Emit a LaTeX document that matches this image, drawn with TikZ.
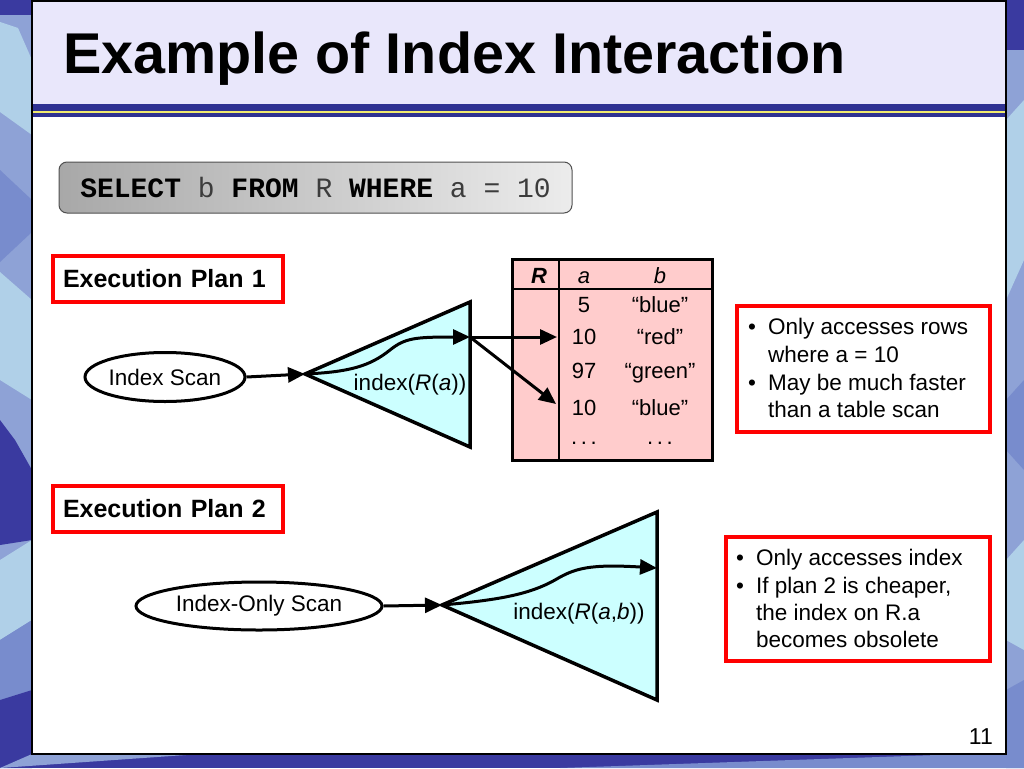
\documentclass[tikz,border=0pt]{standalone}
\usepackage{fontspec}
\setmainfont{Liberation Sans}
\newfontfamily\sqlfont{Liberation Mono}
\usetikzlibrary{arrows.meta,shapes.geometric}
\definecolor{bgdark}{RGB}{58,58,160}
\definecolor{bgmed}{RGB}{120,140,205}
\definecolor{bglight}{RGB}{142,162,214}
\definecolor{bgcyan}{RGB}{176,208,232}
\definecolor{titlebg}{RGB}{233,231,251}
\definecolor{titleblue}{RGB}{46,49,146}
\definecolor{titleyellow}{RGB}{240,234,110}
\definecolor{idxfill}{RGB}{204,255,255}
\definecolor{tblfill}{RGB}{255,204,204}
\definecolor{sqldark}{RGB}{168,168,168}
\definecolor{sqllight}{RGB}{236,236,236}
\definecolor{sqlborder}{RGB}{80,80,80}
\definecolor{sqlgray}{RGB}{60,60,60}
\definecolor{boxred}{RGB}{255,0,0}
\tikzset{
  body/.style={font=\fontsize{22.5}{27}\selectfont},
  arr/.style={line width=3pt,-{Triangle[length=17pt,width=15pt]}},
  scanoval/.style={ellipse,draw,line width=3pt,fill=white,inner sep=0pt,body},
  idxtri/.style={draw,line width=3.5pt,fill=idxfill,line join=miter},
  planbox/.style={draw=boxred,line width=3.5pt,fill=white,inner xsep=10pt,inner ysep=0pt,
    text width=210pt,align=left,minimum height=46pt,font=\fontsize{25}{30}\selectfont\bfseries},
  redframe/.style={draw=boxred,line width=3.5pt,fill=white},
  notetext/.style={anchor=base west,inner sep=0pt,body},
  celltext/.style={anchor=base,inner sep=0pt,font=\fontsize{22}{26}\selectfont},
  idxlabel/.style={anchor=base,inner sep=0pt,body}
}
\begin{document}
\begin{tikzpicture}[x=1pt,y=-1pt]
\useasboundingbox (0,0) rectangle (1024,768);
% ---------- background mosaic ----------
\fill[bgdark] (0,0) rectangle (1024,768);
\fill[bglight] (0,15) -- (32,15) -- (32,740) -- (0,740) -- cycle;
\fill[bgcyan] (0,22) -- (18,28) -- (32,60) -- (32,135) -- (0,112) -- cycle;
\fill[bgmed] (0,170) -- (32,200) -- (32,232) -- (0,262) -- cycle;
\fill[bgcyan] (0,272) -- (32,300) -- (32,400) -- (0,380) -- cycle;
\fill[bgdark] (0,420) -- (15,440) -- (32,470) -- (32,540) -- (0,545) -- cycle;
\fill[bgcyan] (0,560) -- (32,540) -- (32,620) -- (0,640) -- cycle;
\fill[bgmed] (0,640) -- (32,620) -- (32,690) -- (0,700) -- cycle;
\fill[bgdark] (0,700) -- (32,690) -- (32,768) -- (0,768) -- cycle;
\fill[bglight] (1006,50) -- (1024,50) -- (1024,740) -- (1006,740) -- cycle;
\fill[bgcyan] (1006,120) -- (1024,100) -- (1024,260) -- (1006,300) -- cycle;
\fill[bgmed] (1006,400) -- (1024,380) -- (1024,470) -- (1006,450) -- cycle;
\fill[bgcyan] (1006,560) -- (1024,540) -- (1024,650) -- (1006,640) -- cycle;
\fill[bgmed] (1006,690) -- (1024,680) -- (1024,768) -- (1006,768) -- cycle;
\fill[bgmed] (560,768) -- (1024,752) -- (1024,768) -- cycle;
\fill[bglight] (0,768) -- (200,754) -- (32,754) -- cycle;
% ---------- slide panel ----------
\fill[white] (32,0) rectangle (1006,754);
\fill[titlebg] (32,0) rectangle (1006,104);
\fill[titleblue] (32,104) rectangle (1006,111);
\fill[titleyellow] (32,111) rectangle (1006,113);
\fill[titleblue] (32,113) rectangle (1006,117);
\draw[line width=2pt] (32,1) rectangle (1006,754);
\node[anchor=base west,inner sep=0pt,font=\fontsize{57.5}{62}\selectfont\bfseries] (title) at (63,73) {Example of Index Interaction};
% ---------- SQL box ----------
\node[draw=sqlborder,line width=1pt,rounded corners=8pt,left color=sqldark,right color=sqllight,
  minimum width=513pt,minimum height=51pt,inner sep=0pt,text=sqlgray,font=\sqlfont\fontsize{28}{32}\selectfont]
  (sql) at (315.5,187.5) {{\bfseries\color{black}SELECT} b {\bfseries\color{black}FROM} R {\bfseries\color{black}WHERE} a = 10};
% ---------- plan labels ----------
\node[planbox] (plan1) at (168,279) {Execution Plan 1};
\node[planbox] (plan2) at (168,509) {Execution Plan 2};
% ---------- plan 1 ----------
\coordinate (t1apex) at (305,374);
\coordinate (t1top) at (470,302);
\coordinate (t1bot) at (470,447);
\coordinate (t1out) at (470,337);
\path[idxtri] (t1apex) -- (t1top) -- (t1bot) -- cycle;
\node[idxlabel] (lbl1) at (410,390) {index(\textit{R}(\textit{a}))};
\node[scanoval,minimum width=160pt,minimum height=49pt] (scan1) at (165,377) {Index Scan};
% table
\fill[tblfill] (512,259) rectangle (712,460);
\draw[line width=1.5pt] (559,259) -- (559,460);
\draw[line width=1.5pt] (512,289) -- (712,289);
\draw[line width=3pt] (512,259) rectangle (712,460);
\node[celltext] (hR) at (539,283) {\textbf{\textit{R}}};
\node[celltext] (ha) at (584,283) {\textit{a}};
\node[celltext] (hb) at (660,283) {\textit{b}};
\node[celltext] (a1) at (584,312) {5};
\node[celltext] (b1) at (660,312) {“blue”};
\node[celltext] (a2) at (584,344) {10};
\node[celltext] (b2) at (660,344) {“red”};
\node[celltext] (a3) at (584,378) {97};
\node[celltext] (b3) at (660,378) {“green”};
\node[celltext] (a4) at (584,415) {10};
\node[celltext] (b4) at (660,415) {“blue”};
\node[celltext] (a5) at (584,444) {.\,.\,.};
\node[celltext] (b5) at (660,444) {.\,.\,.};
\coordinate (row2in) at (557,337);
\coordinate (row4in) at (556,404);
% arrows plan 1
\draw[arr] (scan1.east) -- (t1apex);
\draw[arr] (t1apex) .. controls (350,372) and (370,366) .. (390,350)
                    .. controls (405,338) and (415,337) .. (t1out);
\draw[arr] (t1out) -- (row2in);
\draw[arr] (t1out) -- (row4in);
% note 1
\path[redframe] (737,306) rectangle (990,432);
\node[notetext] (n1a) at (748,334) {\textbullet};
\node[notetext] (n1b) at (768,334) {Only accesses rows};
\node[notetext] (n1c) at (768,362) {where a = 10};
\node[notetext] (n1d) at (748,390) {\textbullet};
\node[notetext] (n1e) at (768,390) {May be much faster};
\node[notetext] (n1f) at (768,417) {than a table scan};
% ---------- plan 2 ----------
\coordinate (t2apex) at (442,605);
\coordinate (t2top) at (657,512);
\coordinate (t2bot) at (657,700);
\coordinate (t2out) at (657,568);
\path[idxtri] (t2apex) -- (t2top) -- (t2bot) -- cycle;
\node[idxlabel] (lbl2) at (579,619) {index(\textit{R}(\textit{a},\textit{b}))};
\node[scanoval,minimum width=246pt,minimum height=48pt] (scan2) at (259,606) {Index-Only Scan};
\draw[arr] (scan2.east) -- (t2apex);
\draw[arr] (t2apex) .. controls (500,600) and (530,594) .. (555,580)
                    .. controls (575,568) and (590,564) .. (t2out);
% note 2
\path[redframe] (726,537) rectangle (990,661);
\node[notetext] (n2a) at (736,565) {\textbullet};
\node[notetext] (n2b) at (756,565) {Only accesses index};
\node[notetext] (n2c) at (736,593) {\textbullet};
\node[notetext] (n2d) at (756,593) {If plan 2 is cheaper,};
\node[notetext] (n2e) at (756,620) {the index on R.a};
\node[notetext] (n2f) at (756,647) {becomes obsolete};
% page number
\node[anchor=base east,inner sep=0pt,font=\fontsize{23}{27}\selectfont] (pgno) at (993,744) {11};
\end{tikzpicture}
\end{document}
